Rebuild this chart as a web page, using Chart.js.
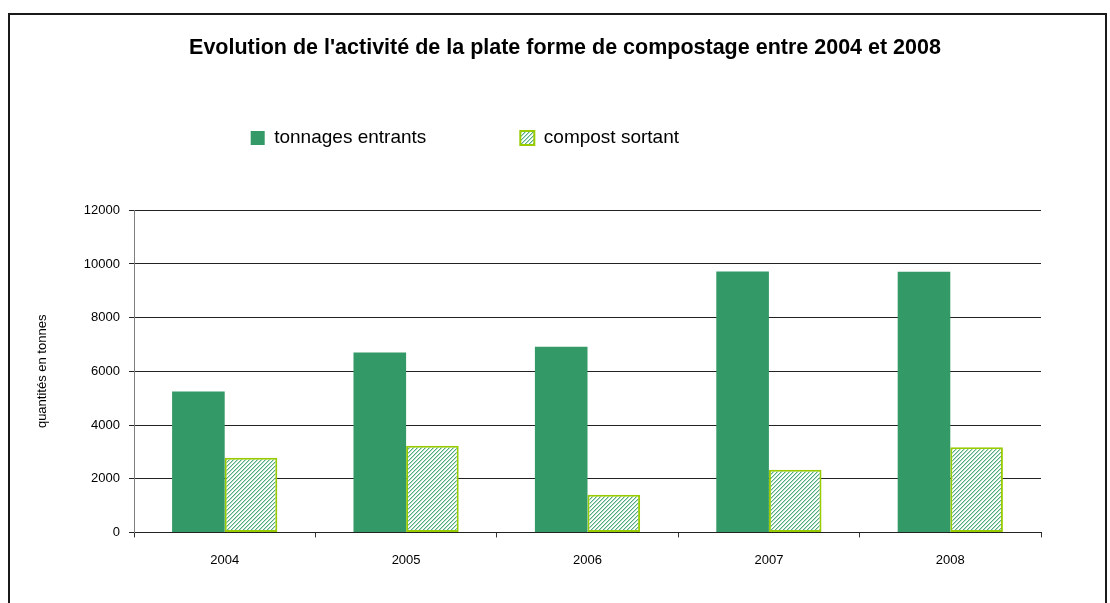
<!DOCTYPE html>
<html><head><meta charset="utf-8">
<script src="https://cdn.jsdelivr.net/npm/chart.js@4.4.1/dist/chart.umd.min.js"></script>
<style>
html,body{margin:0;padding:0;background:#fff;overflow:hidden}
#wrap{position:relative;width:1110px;height:603px}
#frame{position:absolute;left:8px;top:13px;width:1099px;height:660px;border:2px solid #1a1a1a;box-sizing:border-box;pointer-events:none}
canvas{position:absolute;left:0;top:0}
</style></head><body>
<div id="wrap"><canvas id="c" width="1110" height="603"></canvas><div id="frame"></div></div>
<script>
const categories = ['2004', '2005', '2006', '2007', '2008'];
const tonnagesEntrants = [5250, 6700, 6920, 9720, 9710];
const compostSortant = [2780, 3230, 1400, 2330, 3170];
const seriesNames = ['tonnages entrants', 'compost sortant'];
const titleText = "Evolution de l'activité de la plate forme de compostage entre 2004 et 2008";
const yAxisTitle = 'quantités en tonnes';
const yMin = 0, yMax = 12000, yStep = 2000;

const FONT = "'Liberation Sans', Arial, sans-serif";

function makeHatch() {
  const c = document.createElement('canvas');
  c.width = 4; c.height = 4;
  const g = c.getContext('2d');
  const img = g.createImageData(4, 4);
  for (let y = 0; y < 4; y++) {
    for (let x = 0; x < 4; x++) {
      const i = (y * 4 + x) * 4;
      const k = (x + y) % 4;
      let col = [255, 255, 255];
      if (k === 0) col = [84, 172, 126];
      else if (k === 1) col = [180, 220, 198];
      img.data[i] = col[0];
      img.data[i + 1] = col[1];
      img.data[i + 2] = col[2];
      img.data[i + 3] = 255;
    }
  }
  g.putImageData(img, 0, 0);
  return g.createPattern(c, 'repeat');
}

const placeBlocks = {
  id: 'placeBlocks',
  afterLayout(chart) {
    if (chart.titleBlock) { chart.titleBlock.left = 20; chart.titleBlock.right = chart.width; }
    if (chart.legend) { chart.legend.left = 156.7; chart.legend.top = 34.5; }
  }
};

new Chart(document.getElementById('c'), {
  type: 'bar',
  data: {
    labels: categories,
    datasets: [
      { label: seriesNames[0], data: tonnagesEntrants, backgroundColor: '#339966', borderWidth: 0 },
      { label: seriesNames[1], data: compostSortant, backgroundColor: makeHatch(), borderColor: '#99cc00', borderWidth: 2, borderSkipped: false }
    ]
  },
  plugins: [placeBlocks],
  options: {
    responsive: false,
    animation: false,
    devicePixelRatio: 1,
    layout: { padding: { left: 0, right: 69, top: 0, bottom: 20 } },
    datasets: { bar: { categoryPercentage: 0.58, barPercentage: 1 } },
    plugins: {
      title: {
        display: true, text: titleText, color: '#000',
        font: { family: FONT, size: 21.5, weight: 'bold' },
        padding: { top: 35, bottom: 26.5 }
      },
      legend: {
        display: true, position: 'top', align: 'start',
        labels: {
          boxWidth: 14, boxHeight: 14, padding: 94, color: '#000',
          font: { family: FONT, size: 19 }
        }
      },
      tooltip: { enabled: false }
    },
    scales: {
      x: {
        grid: { display: true, drawOnChartArea: false, drawTicks: true, tickLength: 5, color: '#333', offset: true },
        border: { display: true, color: '#222' },
        ticks: { color: '#000', padding: 15, font: { family: FONT, size: 13 } }
      },
      y: {
        min: yMin, max: yMax,
        afterFit: s => { s.width = 134; },
        grid: { color: '#222', drawTicks: true, tickLength: 5 },
        border: { display: true, color: '#808080' },
        ticks: { stepSize: yStep, color: '#000', padding: 9, font: { family: FONT, size: 13 }, format: { useGrouping: false } },
        title: { display: true, text: yAxisTitle, color: '#000', font: { family: FONT, size: 13 }, padding: { top: 34.2, bottom: 0 } }
      }
    }
  }
});
</script>
</body></html>
